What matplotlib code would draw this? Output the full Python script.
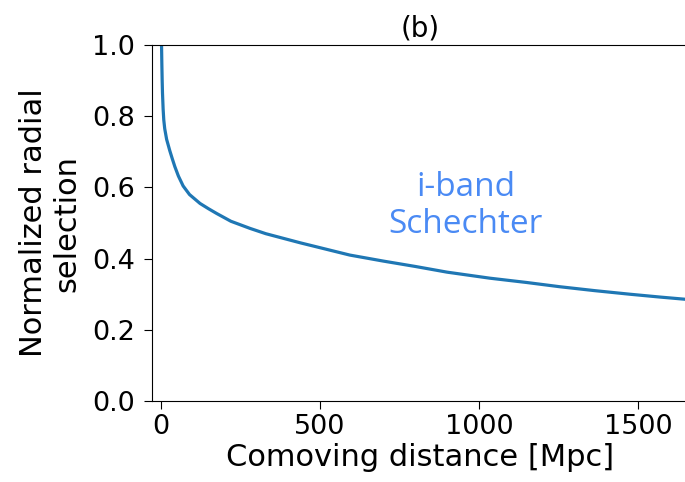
import matplotlib
matplotlib.use("Agg")
import matplotlib.pyplot as plt

# comoving distance [Mpc] and normalized radial selection
distance = [2, 3, 4, 5, 7, 9, 12, 18, 28, 36, 44, 55, 70, 90, 123, 150, 175,
            220, 280, 330, 385, 440, 490, 594, 700, 800, 900, 1035, 1150, 1255,
            1365, 1475, 1570, 1660]
selection = [1.0, 0.945, 0.90, 0.865, 0.82, 0.79, 0.765, 0.735, 0.703, 0.680,
             0.658, 0.632, 0.604, 0.58, 0.555, 0.54, 0.527, 0.505, 0.485, 0.47,
             0.457, 0.444, 0.433, 0.41, 0.393, 0.378, 0.362, 0.345, 0.333, 0.321,
             0.31, 0.30, 0.292, 0.285]

x_ticks = [0, 500, 1000, 1500]
y_ticks = [0.0, 0.2, 0.4, 0.6, 0.8, 1.0]

fig = plt.figure(figsize=(6.85, 4.82), dpi=100)
ax = fig.add_axes([0.2219, 0.168, 1.004 - 0.2219, 0.9066 - 0.168])

ax.plot(distance, selection, color="#1f77b4", lw=2.3)

ax.set_xlim(-28, 1657)
ax.set_ylim(0, 1.0)
ax.set_xticks(x_ticks)
ax.set_yticks(y_ticks)
ax.tick_params(labelsize=19.5, length=6)
ax.tick_params(axis="y", pad=6)

ax.set_xlabel("Comoving distance [Mpc]", fontsize=22, labelpad=2)
ax.set_ylabel("Normalized radial\nselection", fontsize=22, labelpad=8)
ax.set_title("(b)", fontsize=20)

ax.text(959, 0.548, "i-band\nSchechter", color="#4a8af4", fontsize=24,
        family="Open Sans", ha="center", va="center", linespacing=1.15)

fig.savefig("out.png", dpi=100)
